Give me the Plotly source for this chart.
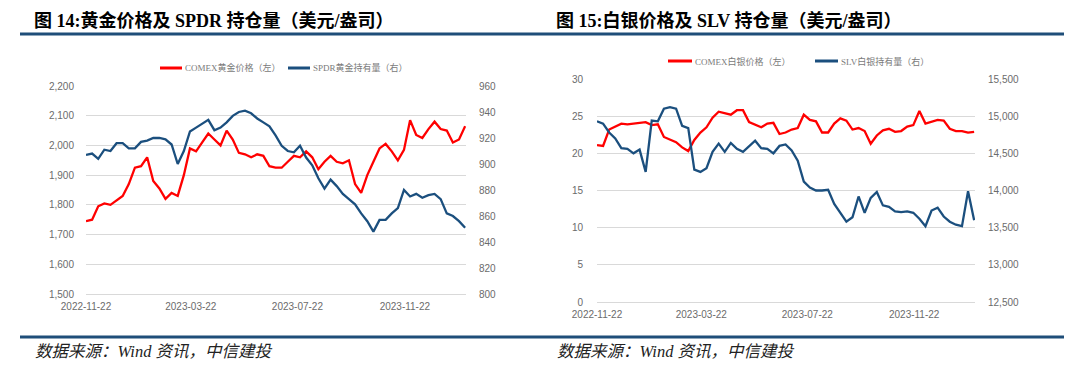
import plotly.graph_objects as go
import pandas as pd

W, H = 1080, 367

# ---------------- data (weekly samples) ----------------
dates = pd.date_range("2022-11-22", periods=63, freq="7D")
tick_dates = ["2022-11-22", "2023-03-22", "2023-07-22", "2023-11-22"]

gold_price = [1745, 1750, 1795, 1805, 1800, 1815, 1830, 1870, 1925, 1930,
              1960, 1880, 1855, 1820, 1840, 1830, 1900, 1990, 1980, 2010,
              2040, 2020, 2000, 2050, 2020, 1975, 1970, 1960, 1970, 1965,
              1930, 1925, 1925, 1945, 1965, 1960, 1980, 1960, 1920, 1945,
              1965, 1945, 1940, 1950, 1870, 1840, 1900, 1945, 1990, 2005,
              1980, 1950, 1985, 2085, 2035, 2025, 2055, 2080, 2055, 2050,
              2010, 2020, 2065]
spdr_holdings = [907, 908, 904, 911, 910, 916, 916, 912, 912, 917,
                 918, 920, 920, 919, 915, 900, 910, 925, 928, 931,
                 934, 926, 928, 932, 937, 940, 941, 939, 935, 932,
                 929, 922, 914, 910, 909, 914, 905, 899, 889, 881,
                 888, 883, 877, 873, 869, 862, 856, 848, 857, 857,
                 862, 866, 880, 875, 877, 874, 876, 877, 873, 862,
                 860, 856, 851]
silver_price = [21.1, 21.0, 23.2, 23.6, 24.0, 23.9, 24.0, 24.0, 24.2, 23.8,
                23.9, 22.2, 21.8, 21.5, 20.8, 20.3, 21.8, 22.8, 23.5, 24.8,
                25.6, 25.4, 25.2, 25.8, 25.8, 24.2, 23.8, 23.5, 24.0, 24.1,
                22.6, 22.8, 23.2, 23.4, 25.2, 24.5, 24.3, 22.8, 22.8, 24.0,
                24.7, 24.4, 23.2, 23.4, 23.0, 21.3, 22.4, 23.1, 23.3, 22.9,
                23.0, 23.6, 23.8, 25.7, 24.0, 24.2, 24.5, 24.4, 23.3, 23.0,
                23.0, 22.8, 22.9]
slv_holdings = [14930, 14900, 14780, 14700, 14570, 14560, 14500, 14550, 14250, 14940,
                14930, 15100, 15120, 15100, 14870, 14840, 14280, 14250, 14300, 14520,
                14630, 14520, 14640, 14560, 14520, 14600, 14670, 14570, 14560, 14500,
                14600, 14620, 14540, 14400, 14120, 14040, 14000, 14000, 14010, 13820,
                13700, 13580, 13640, 13920, 13700, 13900, 13980, 13800, 13780, 13720,
                13710, 13720, 13700, 13620, 13520, 13730, 13770, 13650, 13580, 13540,
                13520, 13990, 13600]

titles = ["图 14:黄金价格及 SPDR 持仓量（美元/盎司）", "图 15:白银价格及 SLV 持仓量（美元/盎司）"]
legend_left = ["COMEX黄金价格（左）", "SPDR黄金持有量（右）"]
legend_right = ["COMEX白银价格（左）", "SLV白银持有量（右）"]
source = "数据来源：Wind 资讯，中信建投"

RED = "#ff0000"
BLUE = "#1b4f7e"
GRID = "#d9d9d9"
TICK = "#6b6b6b"
HEAD = "#1f4e79"


def fx(px):
    return px / W


def fy(py):
    return 1 - py / H


fig = go.Figure()
fig.add_trace(go.Scatter(x=dates, y=gold_price, mode="lines", xaxis="x", yaxis="y",
                         line=dict(color=RED, width=2.3), name=legend_left[0], showlegend=False))
fig.add_trace(go.Scatter(x=dates, y=spdr_holdings, mode="lines", xaxis="x", yaxis="y2",
                         line=dict(color=BLUE, width=2.3), name=legend_left[1], showlegend=False))
fig.add_trace(go.Scatter(x=dates, y=silver_price, mode="lines", xaxis="x2", yaxis="y3",
                         line=dict(color=RED, width=2.3), name=legend_right[0], showlegend=False))
fig.add_trace(go.Scatter(x=dates, y=slv_holdings, mode="lines", xaxis="x2", yaxis="y4",
                         line=dict(color=BLUE, width=2.3), name=legend_right[1], showlegend=False))

tickfont = dict(family="Liberation Sans, Arial, sans-serif", size=10, color=TICK)
xrange = ["2022-11-22", "2024-01-31"]

xcommon = dict(type="date", range=xrange, tickvals=tick_dates, tickformat="%Y-%m-%d",
               showgrid=False, zeroline=False, showline=True, linecolor=GRID, linewidth=1,
               ticks="outside", ticklen=3, tickcolor="rgba(0,0,0,0)", tickfont=tickfont,
               automargin=False)
L_dom_x = [fx(86), fx(466)]
R_dom_x = [fx(597), fx(975)]
L_dom_y = [fy(294), fy(86)]
R_dom_y = [fy(302), fy(79)]

fig.update_layout(
    width=W, height=H, margin=dict(l=0, r=0, t=0, b=0, autoexpand=False),
    paper_bgcolor="white", plot_bgcolor="white",
    xaxis=dict(domain=L_dom_x, anchor="y", **xcommon),
    xaxis2=dict(domain=R_dom_x, anchor="y3", **xcommon),
    yaxis=dict(domain=L_dom_y, anchor="x", range=[1500, 2200], dtick=100, tick0=1500,
               tickformat=",", showgrid=True, gridcolor=GRID, gridwidth=1, zeroline=False,
               ticks="outside", ticklen=9, tickcolor="rgba(0,0,0,0)", tickfont=tickfont,
               automargin=False),
    yaxis2=dict(domain=L_dom_y, anchor="x", overlaying="y", side="right", range=[800, 960],
                dtick=20, tick0=800, showgrid=False, zeroline=False,
                ticks="outside", ticklen=10, tickcolor="rgba(0,0,0,0)", tickfont=tickfont,
                automargin=False),
    yaxis3=dict(domain=R_dom_y, anchor="x2", range=[0, 30], dtick=5, tick0=0,
                showgrid=True, gridcolor=GRID, gridwidth=1, zeroline=False,
                ticks="outside", ticklen=11, tickcolor="rgba(0,0,0,0)", tickfont=tickfont,
                automargin=False),
    yaxis4=dict(domain=R_dom_y, anchor="x2", overlaying="y3", side="right",
                range=[12500, 15500], dtick=500, tick0=12500, tickformat=",",
                showgrid=False, zeroline=False,
                ticks="outside", ticklen=10, tickcolor="rgba(0,0,0,0)", tickfont=tickfont,
                automargin=False),
)

shapes = []
annotations = []

# header rule and footer rule
shapes.append(dict(type="line", xref="paper", yref="paper", x0=fx(20), x1=fx(1064),
                   y0=fy(34), y1=fy(34), line=dict(color=HEAD, width=3)))
shapes.append(dict(type="line", xref="paper", yref="paper", x0=fx(20), x1=fx(1064),
                   y0=fy(337), y1=fy(337), line=dict(color=HEAD, width=3)))

title_font = dict(family="Liberation Serif, Noto Sans CJK SC, serif", size=18, color="#000000")
for txt, x0 in zip(titles, [32, 554]):
    annotations.append(dict(text="<b>" + txt + "</b>", xref="paper", yref="paper",
                            x=fx(x0), y=fy(20), xanchor="left", yanchor="middle",
                            showarrow=False, font=title_font))

src_font = dict(family="Liberation Serif, Noto Sans CJK SC, serif", size=16.5, color="#222222")
for x0 in [33, 555]:
    annotations.append(dict(text="<i>" + source + "</i>", xref="paper", yref="paper",
                            x=fx(x0), y=fy(351), xanchor="left", yanchor="middle",
                            showarrow=False, font=src_font))

leg_font = dict(family="Liberation Serif, Noto Sans CJK SC, serif", size=9, color="#7a7a7a")
legend_specs = [
    (legend_left, [(160, 182, 183), (288, 310, 311)], 68),
    (legend_right, [(668, 692, 693), (815, 838, 839)], 61),
]
for labels, spots, ly in legend_specs:
    for lab, (a, b, t), col in zip(labels, spots, [RED, BLUE]):
        shapes.append(dict(type="line", xref="paper", yref="paper", x0=fx(a), x1=fx(b),
                           y0=fy(ly), y1=fy(ly), line=dict(color=col, width=3)))
        annotations.append(dict(text=lab, xref="paper", yref="paper", x=fx(t), y=fy(ly),
                                xanchor="left", yanchor="middle", showarrow=False,
                                font=leg_font))

fig.update_layout(shapes=shapes, annotations=annotations)
fig.write_html("out.html", config={"displayModeBar": False},
               post_script="document.body.style.margin='0';document.body.style.overflow='hidden';")
